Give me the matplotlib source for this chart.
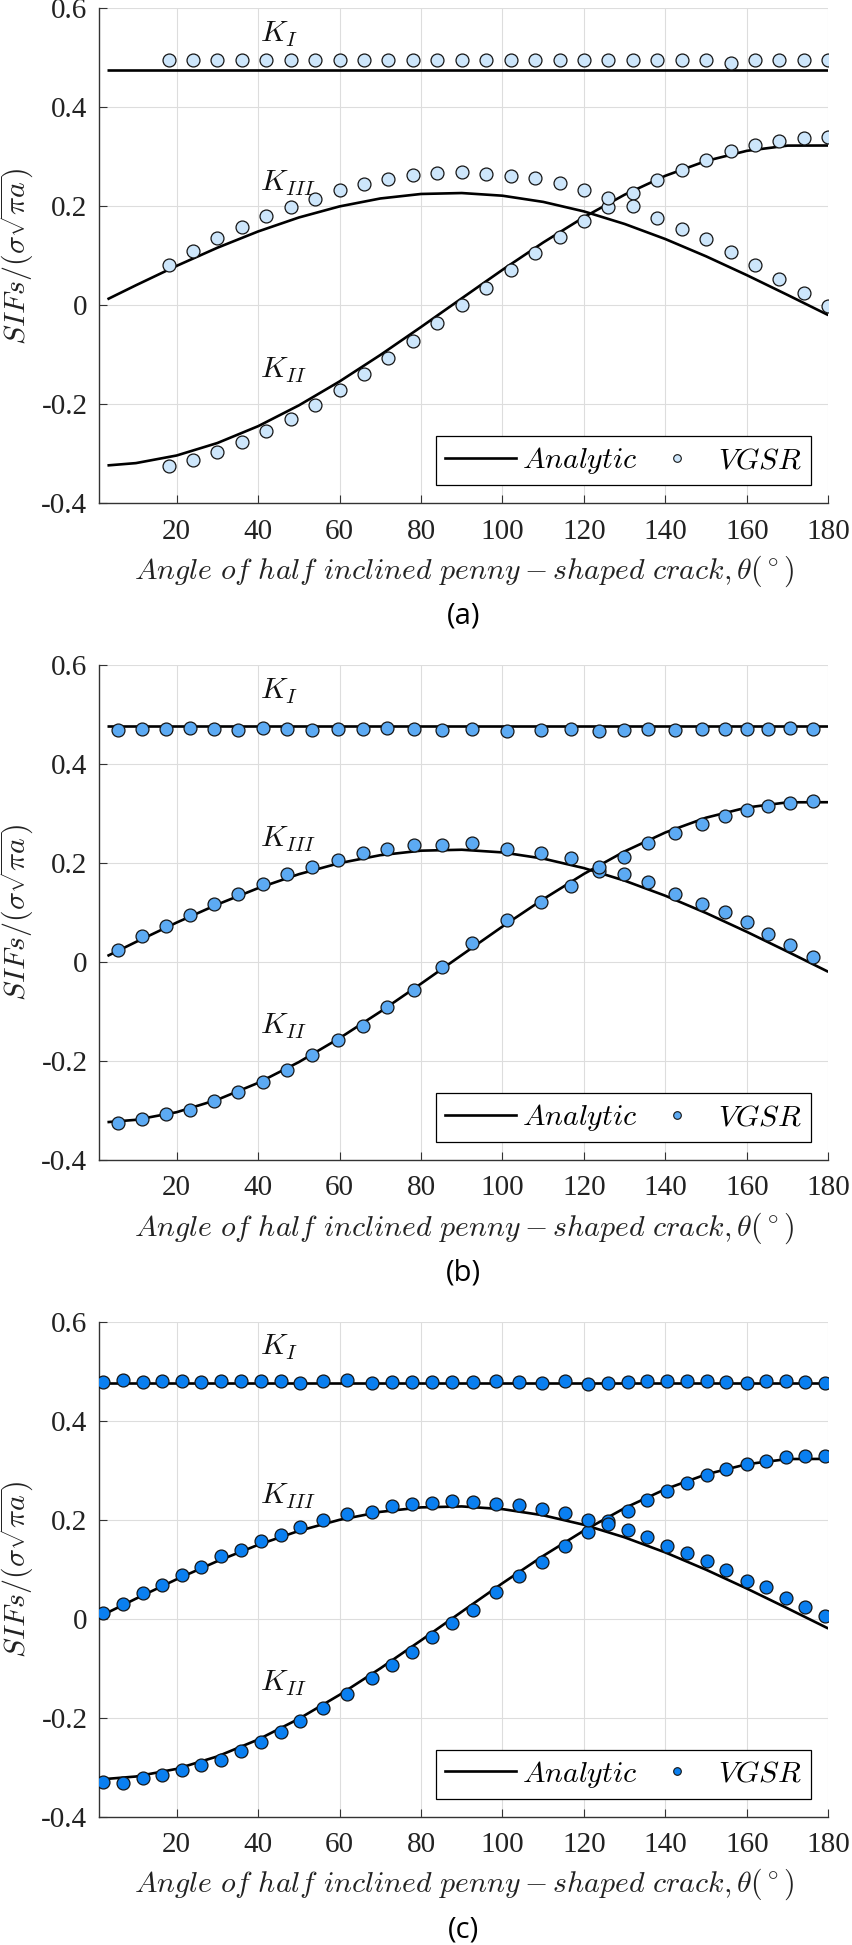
import numpy as np
import matplotlib
matplotlib.use('Agg')
import matplotlib.pyplot as plt
from matplotlib.lines import Line2D
from matplotlib.legend_handler import HandlerLine2D

# ---------------- data ----------------
theta_analytic = [3, 10, 20, 30, 40, 50, 60, 70, 80, 90, 100, 110, 120, 130, 140, 150, 160, 170, 180]
KI_analytic = [0.476] * len(theta_analytic)
KII_analytic = [-0.3235, -0.3188, -0.3034, -0.2782, -0.2442, -0.2022, -0.1538, -0.1004, -0.0438, 0.0141,
                0.0717, 0.1269, 0.1780, 0.2235, 0.2617, 0.2916, 0.3121, 0.3226, 0.3228]
KIII_analytic = [0.0122, 0.0405, 0.0797, 0.1163, 0.1492, 0.1774, 0.1998, 0.2158, 0.2249, 0.2268,
                 0.2214, 0.2089, 0.1897, 0.1643, 0.1338, 0.0989, 0.0609, 0.0209, -0.0198]

# panel (a)
theta_a = [18, 24, 30, 36, 42, 48, 54, 60, 66, 72, 78, 84, 90, 96, 102, 108, 114, 120, 126, 132,
           138, 144, 150, 156, 162, 168, 174, 180]
KI_a = [0.495, 0.496, 0.495, 0.495, 0.496, 0.496, 0.495, 0.496, 0.495, 0.495, 0.495, 0.496, 0.496, 0.495,
        0.496, 0.496, 0.496, 0.496, 0.496, 0.496, 0.495, 0.496, 0.496, 0.490, 0.495, 0.495, 0.496, 0.495]
KII_a = [-0.3246, -0.313, -0.296, -0.276, -0.2545, -0.230, -0.202, -0.1717, -0.1394, -0.1064, -0.0721,
         -0.0357, 0.0, 0.0357, 0.0707, 0.1057, 0.138, 0.170, 0.1986, 0.2276, 0.2525, 0.274, 0.294,
         0.311, 0.323, 0.332, 0.338, 0.340]
KIII_a = [0.082, 0.110, 0.136, 0.158, 0.180, 0.199, 0.2155, 0.232, 0.246, 0.2545, 0.2626, 0.267, 0.269,
          0.266, 0.261, 0.257, 0.247, 0.232, 0.2168, 0.200, 0.177, 0.155, 0.1333, 0.1077, 0.0808,
          0.0539, 0.0256, -0.001]

# panel (b)
theta_b = [5.7, 11.4, 17.3, 23.3, 29.2, 35.0, 41.1, 47.2, 53.3, 59.5, 65.8, 71.7, 78.3, 85.2, 92.6,
           101.0, 109.5, 116.8, 123.7, 129.8, 135.8, 142.4, 148.9, 154.6, 160.0, 165.1, 170.6, 176.2]
KI_b = [0.4694, 0.4714, 0.4714, 0.4728, 0.4701, 0.4694, 0.4734, 0.4708, 0.4681, 0.4708, 0.4714, 0.4728,
        0.4714, 0.4681, 0.4714, 0.4660, 0.4681, 0.4714, 0.4660, 0.4694, 0.4714, 0.4681, 0.4701, 0.4701,
        0.4714, 0.4714, 0.4734, 0.4701]
KII_b = [-0.3245, -0.3164, -0.3077, -0.2982, -0.2807, -0.2626, -0.2424, -0.2174, -0.1885, -0.1582,
         -0.1299, -0.0909, -0.0558, -0.0101, 0.0384, 0.0842, 0.1212, 0.1529, 0.1832, 0.212, 0.241,
         0.261, 0.2796, 0.295, 0.3064, 0.315, 0.321, 0.3246]
KIII_b = [0.0236, 0.0519, 0.0727, 0.0943, 0.118, 0.138, 0.158, 0.1786, 0.192, 0.2068, 0.2203, 0.229,
          0.237, 0.237, 0.241, 0.229, 0.220, 0.211, 0.192, 0.1786, 0.1616, 0.1367, 0.118, 0.101,
          0.0808, 0.0574, 0.0352, 0.0101]

# panel (c)
theta_c = [1.8, 6.8, 11.7, 16.5, 21.2, 26.0, 30.9, 35.8, 40.6, 45.5, 50.4, 55.9, 61.8, 67.9, 72.8, 77.7,
           82.8, 87.7, 92.8, 98.3, 104.1, 109.6, 115.3, 121.1, 125.8, 130.7, 135.6, 140.5, 145.4, 150.1,
           155.0, 160.0, 164.7, 169.5, 174.4, 179.2]
KI_c = [0.4774, 0.4821, 0.4774, 0.4794, 0.4794, 0.4774, 0.4808, 0.4794, 0.4808, 0.4794, 0.4761, 0.4808,
        0.4821, 0.4754, 0.4774, 0.4774, 0.4774, 0.4774, 0.4788, 0.4794, 0.4774, 0.4761, 0.4808, 0.4741,
        0.4761, 0.4788, 0.4794, 0.4794, 0.4808, 0.4808, 0.4774, 0.4761, 0.4808, 0.4794, 0.4774, 0.4761]
KII_c = [-0.3306, -0.332, -0.3218, -0.3151, -0.305, -0.2949, -0.2848, -0.268, -0.2485, -0.2283, -0.2074,
         -0.1811, -0.1522, -0.1205, -0.0936, -0.068, -0.0377, -0.0094, 0.0182, 0.0532, 0.0869, 0.1138,
         0.1475, 0.1744, 0.1966, 0.2182, 0.2397, 0.2586, 0.2741, 0.2902, 0.3023, 0.3124, 0.3192, 0.3259,
         0.3279, 0.3293]
KIII_c = [0.0108, 0.0296, 0.0512, 0.0687, 0.0889, 0.105, 0.1259, 0.1394, 0.1562, 0.1697, 0.1845, 0.1993,
          0.2114, 0.2148, 0.2269, 0.2316, 0.2336, 0.2384, 0.2363, 0.2316, 0.2296, 0.2215, 0.2128, 0.200,
          0.1912, 0.1791, 0.1643, 0.1475, 0.1327, 0.1172, 0.0983, 0.0768, 0.0633, 0.0418, 0.0229, 0.0061]

x_ticks = [20, 40, 60, 80, 100, 120, 140, 160, 180]
y_ticks = [-0.4, -0.2, 0, 0.2, 0.4, 0.6]
y_tick_labels = ['-0.4', '-0.2', '0', '0.2', '0.4', '0.6']
captions = ['(a)', '(b)', '(c)']
marker_colors = ['#cde6fb', '#5caaf3', '#0a7ff0']
legend_labels = [r'$Analytic$', r'$VGSR$']
xlabel_text = r'$Angle\ of\ half\ inclined\ penny-shaped\ crack,\theta(^\circ)$'
ylabel_text = r'$SIFs/(\sigma\sqrt{\pi a})$'

panel_data = [
    (theta_a, KI_a, KII_a, KIII_a),
    (theta_b, KI_b, KII_b, KIII_b),
    (theta_c, KI_c, KII_c, KIII_c),
]

# ---------------- style ----------------
plt.rcParams['mathtext.fontset'] = 'cm'
plt.rcParams['font.family'] = ['Liberation Serif', 'DejaVu Serif']

W, H = 853, 1945
fig = plt.figure(figsize=(W / 100, H / 100), dpi=100)

LEFT_PX, RIGHT_PX = 99.3, 828.3
AX_H_PX = 495.0
tops = [8.3, 665.0, 1321.7]

TICK_FS = 21
MATH_FS = 21.5
K_FS = 21.5


class OffsetMarkerHandler(HandlerLine2D):
    def get_xdata(self, legend, xdescent, ydescent, width, height, fontsize):
        xdata = np.array([-xdescent, -xdescent + width])
        return xdata, np.array([-xdescent + 0.65 * width])


for i, top in enumerate(tops):
    bottom = top + AX_H_PX
    ax = fig.add_axes([LEFT_PX / W, 1 - bottom / H, (RIGHT_PX - LEFT_PX) / W, AX_H_PX / H])
    th, ki, kii, kiii = panel_data[i]
    col = marker_colors[i]

    for yk in (KI_analytic, KII_analytic, KIII_analytic):
        ax.plot(theta_analytic, yk, color='black', lw=1.9, zorder=3, solid_capstyle='butt')
    for yk in (ki, kii, kiii):
        ax.plot(th, yk, ls='none', marker='o', ms=9.3, mfc=col, mec='#151515', mew=0.9, zorder=4)

    ax.set_xlim(1, 180)
    ax.set_ylim(-0.4, 0.6)
    ax.set_xticks(x_ticks)
    ax.set_yticks(y_ticks)
    ax.set_yticklabels(y_tick_labels)
    ax.grid(True, color='#dddddd', lw=0.8, zorder=0)
    ax.set_axisbelow(True)
    for s in ('top', 'right'):
        ax.spines[s].set_visible(False)
    for s in ('left', 'bottom'):
        ax.spines[s].set_color('#333333')
        ax.spines[s].set_linewidth(1.0)
    ax.tick_params(axis='both', direction='in', length=5.5, width=0.8, color='#333333',
                   labelsize=TICK_FS, labelcolor='#222222')
    ax.tick_params(axis='y', pad=8.5)
    ax.tick_params(axis='x', pad=11)

    # curve labels
    ax.text(40.5, 0.532, r'$K_I$', fontsize=K_FS, ha='left', va='baseline', color='#111111')
    ax.text(40.5, 0.232, r'$K_{III}$', fontsize=K_FS, ha='left', va='baseline', color='#111111')
    ax.text(40.5, -0.146, r'$K_{II}$', fontsize=K_FS, ha='left', va='baseline', color='#111111')

    # legend
    h_line = Line2D([], [], color='black', lw=1.9)
    h_mark = Line2D([], [], ls='none', marker='o', ms=5.5, mfc=col, mec='#151515', mew=0.8)
    leg = ax.legend([h_line, h_mark], legend_labels, loc='lower right',
                    bbox_to_anchor=((811 - LEFT_PX) / (RIGHT_PX - LEFT_PX), 18 / AX_H_PX),
                    borderaxespad=0, ncol=2, fontsize=MATH_FS, frameon=True, fancybox=False,
                    edgecolor='black', framealpha=1, handlelength=2.4, handletextpad=0.2,
                    columnspacing=0.1, borderpad=0.3,
                    handler_map={h_mark: OffsetMarkerHandler(numpoints=1)})
    leg.get_frame().set_linewidth(0.9)

    # axis labels and caption
    cx = (LEFT_PX + RIGHT_PX) / 2 / W
    fig.text(cx, 1 - (bottom + 68) / H, xlabel_text, fontsize=MATH_FS, ha='center', va='center',
             color='#222222')
    fig.text(17 / W, 1 - (top + AX_H_PX / 2) / H, ylabel_text, fontsize=MATH_FS, ha='center',
             va='center', rotation=90, color='#222222')
    fig.text(cx, 1 - (bottom + 113) / H, captions[i], fontsize=21, ha='center', va='center',
             family='Open Sans', color='black')

fig.savefig('out.png', dpi=100)
